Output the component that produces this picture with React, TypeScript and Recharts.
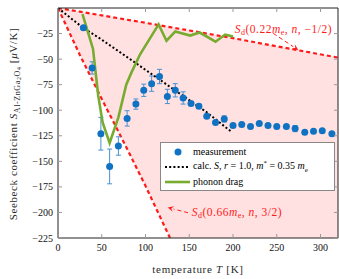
import {
  ComposedChart,
  Area,
  Line,
  Scatter,
  ErrorBar,
  XAxis,
  YAxis,
  Legend,
  ReferenceLine,
  ReferenceDot,
} from "recharts";

const FONT = "'Liberation Serif', 'Times New Roman', serif";
const RED = "#ff1a1a";

const tempTicks = [0, 50, 100, 150, 200, 250, 300];
const seebeckTicks = [0, -25, -50, -75, -100, -125, -150, -175, -200, -225];

// measured Seebeck coefficient (μV/K) with error bars
const measT = [29, 39, 49, 59, 69, 79, 89, 98, 107, 116, 125, 134, 143, 152, 161, 170, 180, 190, 200, 210, 220, 230, 240, 250, 261, 271, 282, 292, 302, 313];
const measS = [-19.4, -58.6, -123, -155, -135, -108, -94, -80.5, -74, -67, -86.5, -80.5, -88, -93.5, -96, -106, -112, -108.5, -115, -114, -116, -113, -115, -116, -116, -118, -121.5, -120.5, -120, -123];
const measErr = [0, 6, 16, 17, 9, 7.5, 5, 6, 7.5, 7, 7, 6.5, 6, 2, 2, 0, 0, 3, 0, 0, 0, 0, 0, 0, 0, 3, 0, 0, 0, 0];

// calc. S, r = 1.0, m* = 0.35 me
const calcT = [0, 28, 50, 84, 116, 143, 170, 198];
const calcS = [0, -19, -31, -51, -70, -86, -102, -121];

// phonon drag
const dragT = [28, 40, 46, 51, 59, 69, 78, 84, 94, 115, 124, 134, 151, 162, 180, 191, 200];
const dragS = [-6, -40, -86, -112, -132, -107, -75, -63, -45, -16, -32, -23, -27, -24, -33, -26, -28];

// S_d bounds
const sdT = [0, 25, 50, 75, 100, 128, 150, 200, 250, 320];
const sdUpper = [0, -3.6, -7.2, -10.9, -14.5, -18.7, -22, -29.5, -37.5, -48.5];
const sdLower: (number | null)[] = [0, -46, -89, -131, -174, -225, null, null, null, null];

const measurement = measT.map((t, i) => ({ t, s: measS[i], err: measErr[i] }));
const calc = calcT.map((t, i) => ({ t, s: calcS[i] }));
const drag = dragT.map((t, i) => ({ t, s: dragS[i] }));
const envelope = sdT.map((t, i) => ({
  t,
  upper: sdUpper[i],
  lower: sdLower[i],
  band: [sdLower[i] ?? -225, sdUpper[i]],
}));

const fmt = (v: number) => (v < 0 ? `\u2212${-v}` : `${v}`);

function BottomTick({ x, y, payload }: any) {
  return (
    <g>
      <line x1={x} x2={x} y1={y} y2={y - 4} stroke="#999" />
      <text x={x} y={y + 13} textAnchor="middle" fontSize={10} fontFamily={FONT} fill="#111" stroke="none">
        {fmt(payload.value)}
      </text>
    </g>
  );
}

function LeftTick({ x, y, payload }: any) {
  return (
    <g>
      <line x1={x} x2={x + 4} y1={y} y2={y} stroke="#999" />
      <text x={x - 5} y={y + 3.5} textAnchor="end" fontSize={10} fontFamily={FONT} fill="#111" stroke="none">
        {fmt(payload.value)}
      </text>
    </g>
  );
}

const TopTick = ({ x, y }: any) => <line x1={x} x2={x} y1={y} y2={y + 4} stroke="#999" />;
const RightTick = ({ x, y }: any) => <line x1={x} x2={x - 4} y1={y} y2={y} stroke="#999" />;

const sub = (size: number, drop: number) =>
  ({ fontSize: size, position: "relative", top: drop, lineHeight: 0 } as const);

function XTitle() {
  return (
    <div
      style={{
        position: "absolute",
        left: 98,
        top: 263,
        width: 200,
        textAlign: "center",
        fontFamily: FONT,
        fontSize: 11,
        lineHeight: "12px",
        letterSpacing: 0.7,
        color: "#2a2a2a",
        whiteSpace: "nowrap",
      }}
    >
      temperature <i>T</i> [K]
    </div>
  );
}

function YTitle() {
  return (
    <div
      style={{
        position: "absolute",
        left: 13 - 130,
        top: 124 - 7,
        width: 260,
        height: 14,
        transform: "rotate(-90deg)",
        transformOrigin: "center",
        textAlign: "center",
        fontFamily: FONT,
        fontSize: 11,
        lineHeight: "14px",
        letterSpacing: 0.6,
        color: "#2a2a2a",
        whiteSpace: "nowrap",
      }}
    >
      Seebeck coefficient <i>S</i>
      <span style={sub(8, 2.5)}>Al-ZnGa</span>
      <span style={sub(6, 4)}>2</span>
      <span style={sub(8, 2.5)}>O</span>
      <span style={sub(6, 4)}>4</span> [<i>μ</i>V/K]
    </div>
  );
}

function SdLabel({ cx, cy, mass, power }: any) {
  return (
    <text x={cx} y={cy + 4} fill={RED} stroke="none" fontFamily={FONT} fontSize={11.5} letterSpacing={0.5}>
      <tspan fontStyle="italic">S</tspan>
      <tspan fontSize={8} dy={2}>d</tspan>
      <tspan dy={-2}>{`(${mass}`}</tspan>
      <tspan fontStyle="italic">m</tspan>
      <tspan fontSize={8} dy={2}>e</tspan>
      <tspan dy={-2}>{", "}</tspan>
      <tspan fontStyle="italic">n</tspan>
      <tspan>{`, ${power})`}</tspan>
    </text>
  );
}

function DashedArrow({ x1, y1, x2, y2 }: any) {
  const a = Math.atan2(y2 - y1, x2 - x1);
  const len = 6;
  const w = 2.8;
  const bx = x2 - len * Math.cos(a);
  const by = y2 - len * Math.sin(a);
  const pts = [
    [x2, y2],
    [bx - w * Math.sin(a), by + w * Math.cos(a)],
    [x2 - len * 0.6 * Math.cos(a), y2 - len * 0.6 * Math.sin(a)],
    [bx + w * Math.sin(a), by - w * Math.cos(a)],
  ]
    .map((p) => p.join(","))
    .join(" ");
  return (
    <g>
      <line x1={x1} y1={y1} x2={bx} y2={by} stroke={RED} strokeWidth={1} strokeDasharray="4 3" />
      <polygon points={pts} fill={RED} />
    </g>
  );
}

function LegendBox() {
  const row = { display: "flex", alignItems: "center", height: 14.7 } as const;
  return (
    <div
      style={{
        width: 175,
        height: 49,
        boxSizing: "border-box",
        border: "1px solid #888",
        background: "#fff",
        fontFamily: FONT,
        fontSize: 10,
        lineHeight: 1,
        paddingTop: 2,
        color: "#000",
      }}
    >
      <div style={row}>
        <svg width={32} height={14}>
          <circle cx={17} cy={7} r={3.5} fill="#0f72c2" />
        </svg>
        <span>measurement</span>
      </div>
      <div style={row}>
        <svg width={32} height={14}>
          <line x1={4} x2={29} y1={7} y2={7} stroke="#000" strokeWidth={2} strokeDasharray="2 2.2" />
        </svg>
        <span>
          calc. <i>S</i>, <i>r</i> = 1.0, <i>m</i>
          <sup style={{ fontSize: 7 }}>*</sup> = 0.35 <i>m</i>
          <sub style={{ fontSize: 7 }}>e</sub>
        </span>
      </div>
      <div style={row}>
        <svg width={32} height={14}>
          <line x1={4} x2={29} y1={7} y2={7} stroke="#77ac30" strokeWidth={2.6} />
        </svg>
        <span>phonon drag</span>
      </div>
    </div>
  );
}

export default function App() {
  return (
    <div style={{ position: "absolute", left: 0, top: 0, width: 339, height: 279 }}>
      <ComposedChart width={339} height={279} margin={{ top: 7, right: 0, bottom: 40, left: 57 }}>
        <XAxis
          dataKey="t"
          type="number"
          domain={[0, 320]}
          ticks={tempTicks}
          allowDataOverflow
          height={1}
          tickSize={0}
          tickMargin={0}
          tickLine={false}
          tick={<BottomTick />}
          axisLine={{ stroke: "#222" }}
        />
        <XAxis
          xAxisId="top"
          orientation="top"
          dataKey="t"
          type="number"
          domain={[0, 320]}
          ticks={tempTicks}
          allowDataOverflow
          height={1}
          tickSize={0}
          tickMargin={0}
          tickLine={false}
          tick={<TopTick />}
          axisLine={{ stroke: "#222" }}
        />
        <YAxis
          type="number"
          domain={[-225, 0]}
          ticks={seebeckTicks}
          allowDataOverflow
          width={1}
          tickSize={0}
          tickMargin={0}
          tickLine={false}
          tick={<LeftTick />}
          axisLine={{ stroke: "#222" }}
        />
        <YAxis
          yAxisId="right"
          orientation="right"
          type="number"
          domain={[-225, 0]}
          ticks={seebeckTicks}
          allowDataOverflow
          width={1}
          tickSize={0}
          tickMargin={0}
          tickLine={false}
          tick={<RightTick />}
          axisLine={{ stroke: "#222" }}
        />

        <Area data={envelope} dataKey="band" type="linear" stroke="none" fill="#ffe1e1" fillOpacity={1} isAnimationActive={false} />
        <Line data={envelope} dataKey="upper" type="linear" stroke={RED} strokeWidth={2.2} strokeDasharray="4 3" dot={false} activeDot={false} isAnimationActive={false} />
        <Line data={envelope} dataKey="lower" type="linear" stroke={RED} strokeWidth={2.2} strokeDasharray="4 3" dot={false} activeDot={false} isAnimationActive={false} />

        <Scatter
          data={measurement}
          dataKey="s"
          isAnimationActive={false}
          shape={(p: any) => <circle cx={p.cx} cy={p.cy} r={3.5} fill="#0f72c2" />}
        >
          <ErrorBar dataKey="err" direction="y" width={2.5} stroke="#4a90d0" strokeWidth={1} />
        </Scatter>
        <Line data={calc} dataKey="s" type="linear" stroke="#000" strokeWidth={2} strokeDasharray="2 2.2" dot={false} activeDot={false} isAnimationActive={false} />
        <Line data={drag} dataKey="s" type="linear" stroke="#77ac30" strokeWidth={2.6} dot={false} activeDot={false} isAnimationActive={false} />

        <ReferenceLine segment={[{ x: 246, y: -24.8 }, { x: 274.6, y: -41.1 }]} shape={<DashedArrow />} />
        <ReferenceLine segment={[{ x: 148.6, y: -200.3 }, { x: 125.4, y: -195.2 }]} shape={<DashedArrow />} />
        <ReferenceDot x={202} y={-20.5} r={0} shape={(p: any) => <SdLabel {...p} mass="0.22" power={"\u22121/2"} />} />
        <ReferenceDot x={152.8} y={-200} r={0} shape={(p: any) => <SdLabel {...p} mass="0.66" power="3/2" />} />

        <Legend
          layout="vertical"
          align="center"
          verticalAlign="middle"
          content={<LegendBox />}
          wrapperStyle={{ left: 160, top: 142, width: 175, height: 49 }}
        />
      </ComposedChart>
      <XTitle />
      <YTitle />
    </div>
  );
}
